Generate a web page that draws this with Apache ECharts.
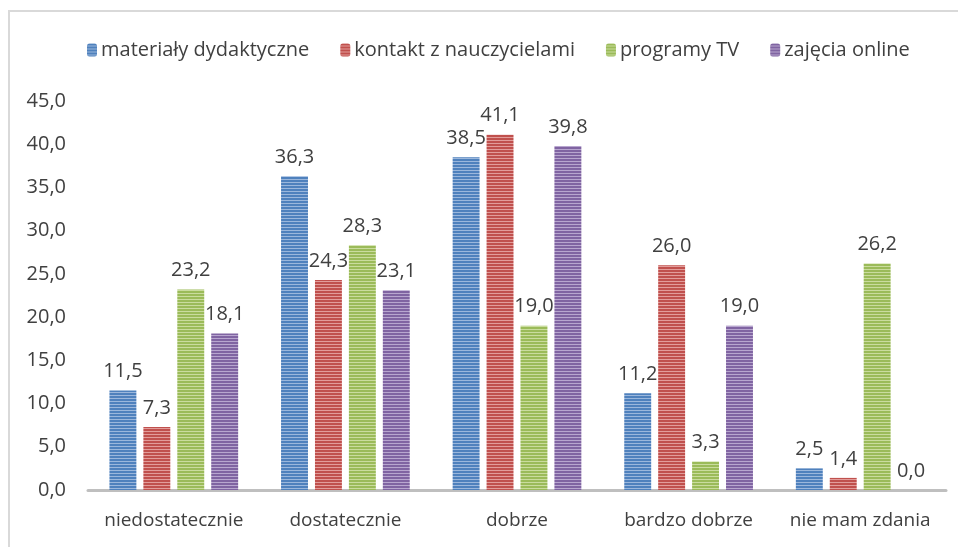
<!DOCTYPE html>
<html>
<head>
<meta charset="utf-8">
<script src="https://cdn.jsdelivr.net/npm/echarts@6/dist/echarts.min.js"></script>
<style>
  html, body { margin: 0; padding: 0; background: #fff; }
  #chart { width: 958px; height: 547px; }
</style>
</head>
<body>
<div id="chart"></div>
<script>
// kategorie i dane
var categories = ['niedostatecznie', 'dostatecznie', 'dobrze', 'bardzo dobrze', 'nie mam zdania'];
var seriesNames = ['materiały dydaktyczne', 'kontakt z nauczycielami', 'programy TV', 'zajęcia online'];
var materialy = [11.5, 36.3, 38.5, 11.2, 2.5];
var kontakt = [7.3, 24.3, 41.1, 26.0, 1.4];
var programy = [23.2, 28.3, 19.0, 3.3, 26.2];
var zajecia = [18.1, 23.1, 39.8, 19.0, 0.0];
var yTicks = [0, 5, 10, 15, 20, 25, 30, 35, 40, 45];

// paski poziome jak w Excelu
function stripes(base, light) {
  var c = document.createElement('canvas');
  c.width = 4; c.height = 3;
  var ctx = c.getContext('2d');
  ctx.fillStyle = base;
  ctx.fillRect(0, 0, 4, 3);
  ctx.fillStyle = light;
  ctx.fillRect(0, 2, 4, 1);
  return { image: c, repeat: 'repeat' };
}

var colors = [
  stripes('#4f81bd', '#9bb7dc'),
  stripes('#c0504d', '#e29c9a'),
  stripes('#9bbb59', '#cadc9e'),
  stripes('#8064a2', '#b8a6cf')
];

var font = '"Open Sans", "Noto Sans", sans-serif';

function fmt(v) {
  return Number(v).toFixed(1).replace('.', ',');
}

function makeSeries(name, data, i) {
  return {
    name: name,
    type: 'bar',
    data: data,
    barGap: '26%',
    barCategoryGap: '25%',
    itemStyle: { color: colors[i] },
    label: {
      show: true,
      position: 'top',
      distance: 9,
      color: '#404040',
      fontFamily: font,
      fontSize: 20,
      formatter: function (p) { return fmt(p.value); }
    }
  };
}

var chart = echarts.init(document.getElementById('chart'));
chart.setOption({
  animation: false,
  graphic: [{
    type: 'polyline',
    shape: { points: [[9, 547], [9, 11], [958, 11]] },
    style: { stroke: '#d9d9d9', lineWidth: 2, fill: null }
  }],
  legend: {
    top: 35,
    left: 82,
    itemWidth: 10,
    itemHeight: 13,
    itemGap: 31,
    textStyle: { color: '#404040', fontFamily: font, fontSize: 20, padding: [0, 0, 0, -1] },
    data: seriesNames
  },
  grid: { left: 88, right: 12, top: 101, bottom: 57 },
  xAxis: {
    type: 'category',
    data: categories,
    axisLine: { lineStyle: { color: '#bfbfbf', width: 3 } },
    axisTick: { show: false },
    axisLabel: {
      interval: 0,
      hideOverlap: false,
      color: '#404040',
      fontFamily: font,
      fontSize: 19,
      margin: 21
    }
  },
  yAxis: {
    type: 'value',
    min: 0,
    max: 45,
    interval: 5,
    axisLine: { show: false },
    axisTick: { show: false },
    splitLine: { show: false },
    axisLabel: {
      color: '#404040',
      fontFamily: font,
      fontSize: 20,
      margin: 22,
      formatter: function (v) { return yTicks.indexOf(v) >= 0 ? fmt(v) : ''; }
    }
  },
  series: [
    makeSeries(seriesNames[0], materialy, 0),
    makeSeries(seriesNames[1], kontakt, 1),
    makeSeries(seriesNames[2], programy, 2),
    makeSeries(seriesNames[3], zajecia, 3)
  ]
});
</script>
</body>
</html>
